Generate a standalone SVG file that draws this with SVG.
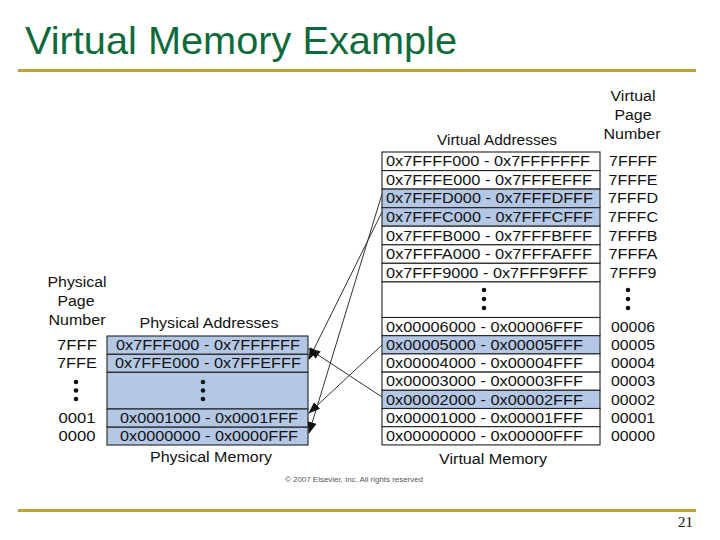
<svg xmlns="http://www.w3.org/2000/svg" width="720" height="540" viewBox="0 0 720 540">
<style>
.t{font-family:"Liberation Sans",Arial,sans-serif;font-size:14px;fill:#111}
.m{text-anchor:middle}
.row{fill:#fff;stroke:#222;stroke-width:1.1}
.hl{fill:#B4C8E6;stroke:#222;stroke-width:1.1}
.dot{fill:#111}
.conn{stroke:#333;stroke-width:1;fill:none;marker-end:url(#ah)}
</style>
<defs>
<marker id="ah" markerUnits="userSpaceOnUse" markerWidth="12" markerHeight="9" refX="11" refY="4.5" orient="auto">
<path d="M0,0 L12,4.5 L0,9 z" fill="#111"/>
</marker>
</defs>
<rect width="720" height="540" fill="#fff"/>
<g id="title">
<text x="25" y="54" font-family="'Liberation Sans',Arial,sans-serif" font-size="39" fill="#0E6A3A" textLength="432" lengthAdjust="spacingAndGlyphs">Virtual Memory Example</text>
<rect x="18" y="69" width="678" height="3" fill="#C6A033"/>
</g>
<g id="virtual-memory">
<text class="t m" x="497" y="145" textLength="120" lengthAdjust="spacingAndGlyphs">Virtual Addresses</text>
<text class="t m" x="633" y="101" textLength="45" lengthAdjust="spacingAndGlyphs">Virtual</text>
<text class="t m" x="633" y="120" textLength="37" lengthAdjust="spacingAndGlyphs">Page</text>
<text class="t m" x="632" y="139" textLength="57" lengthAdjust="spacingAndGlyphs">Number</text>
<g id="v-7FFFF"><rect class="row" x="382" y="152" width="218" height="18.6"/><text class="t" x="386" y="166.3" textLength="204" lengthAdjust="spacingAndGlyphs">0x7FFFF000 - 0x7FFFFFFF</text><text class="t m" x="633" y="166.3" textLength="48" lengthAdjust="spacingAndGlyphs">7FFFF</text></g>
<g id="v-7FFFE"><rect class="row" x="382" y="170.6" width="218" height="18.5"/><text class="t" x="386" y="184.9" textLength="206" lengthAdjust="spacingAndGlyphs">0x7FFFE000 - 0x7FFFEFFF</text><text class="t m" x="633" y="184.9" textLength="49" lengthAdjust="spacingAndGlyphs">7FFFE</text></g>
<g id="v-7FFFD"><rect class="hl" x="382" y="189.1" width="218" height="18.6"/><text class="t" x="386" y="203.4" textLength="207" lengthAdjust="spacingAndGlyphs">0x7FFFD000 - 0x7FFFDFFF</text><text class="t m" x="633" y="203.4" textLength="50" lengthAdjust="spacingAndGlyphs">7FFFD</text></g>
<g id="v-7FFFC"><rect class="hl" x="382" y="207.7" width="218" height="18.5"/><text class="t" x="386" y="222" textLength="207" lengthAdjust="spacingAndGlyphs">0x7FFFC000 - 0x7FFFCFFF</text><text class="t m" x="633" y="222" textLength="50" lengthAdjust="spacingAndGlyphs">7FFFC</text></g>
<g id="v-7FFFB"><rect class="row" x="382" y="226.2" width="218" height="18.6"/><text class="t" x="386" y="240.5" textLength="206" lengthAdjust="spacingAndGlyphs">0x7FFFB000 - 0x7FFFBFFF</text><text class="t m" x="633" y="240.5" textLength="49" lengthAdjust="spacingAndGlyphs">7FFFB</text></g>
<g id="v-7FFFA"><rect class="row" x="382" y="244.8" width="218" height="18.5"/><text class="t" x="386" y="259.1" textLength="206" lengthAdjust="spacingAndGlyphs">0x7FFFA000 - 0x7FFFAFFF</text><text class="t m" x="633" y="259.1" textLength="49" lengthAdjust="spacingAndGlyphs">7FFFA</text></g>
<g id="v-7FFF9"><rect class="row" x="382" y="263.3" width="218" height="18.6"/><text class="t" x="386" y="277.6" textLength="202" lengthAdjust="spacingAndGlyphs">0x7FFF9000 - 0x7FFF9FFF</text><text class="t m" x="633" y="277.6" textLength="47" lengthAdjust="spacingAndGlyphs">7FFF9</text></g>
<g id="v-gap"><rect class="row" x="382" y="281.9" width="218" height="35.6"/><circle class="dot" cx="484" cy="290" r="2.3"/><circle class="dot" cx="484" cy="299" r="2.3"/><circle class="dot" cx="484" cy="308" r="2.3"/><circle class="dot" cx="628" cy="290" r="2.3"/><circle class="dot" cx="628" cy="299" r="2.3"/><circle class="dot" cx="628" cy="308" r="2.3"/></g>
<g id="v-00006"><rect class="row" x="382" y="317.5" width="218" height="18.2"/><text class="t" x="386" y="331.8" textLength="197" lengthAdjust="spacingAndGlyphs">0x00006000 - 0x00006FFF</text><text class="t m" x="633" y="331.8" textLength="44" lengthAdjust="spacingAndGlyphs">00006</text></g>
<g id="v-00005"><rect class="hl" x="382" y="335.7" width="218" height="18.2"/><text class="t" x="386" y="350" textLength="197" lengthAdjust="spacingAndGlyphs">0x00005000 - 0x00005FFF</text><text class="t m" x="633" y="350" textLength="44" lengthAdjust="spacingAndGlyphs">00005</text></g>
<g id="v-00004"><rect class="row" x="382" y="353.9" width="218" height="18.2"/><text class="t" x="386" y="368.2" textLength="197" lengthAdjust="spacingAndGlyphs">0x00004000 - 0x00004FFF</text><text class="t m" x="633" y="368.2" textLength="44" lengthAdjust="spacingAndGlyphs">00004</text></g>
<g id="v-00003"><rect class="row" x="382" y="372.1" width="218" height="18.2"/><text class="t" x="386" y="386.4" textLength="197" lengthAdjust="spacingAndGlyphs">0x00003000 - 0x00003FFF</text><text class="t m" x="633" y="386.4" textLength="44" lengthAdjust="spacingAndGlyphs">00003</text></g>
<g id="v-00002"><rect class="hl" x="382" y="390.3" width="218" height="18.2"/><text class="t" x="386" y="404.6" textLength="197" lengthAdjust="spacingAndGlyphs">0x00002000 - 0x00002FFF</text><text class="t m" x="633" y="404.6" textLength="44" lengthAdjust="spacingAndGlyphs">00002</text></g>
<g id="v-00001"><rect class="row" x="382" y="408.5" width="218" height="18.2"/><text class="t" x="386" y="422.8" textLength="197" lengthAdjust="spacingAndGlyphs">0x00001000 - 0x00001FFF</text><text class="t m" x="633" y="422.8" textLength="44" lengthAdjust="spacingAndGlyphs">00001</text></g>
<g id="v-00000"><rect class="row" x="382" y="426.7" width="218" height="18.2"/><text class="t" x="386" y="441" textLength="197" lengthAdjust="spacingAndGlyphs">0x00000000 - 0x00000FFF</text><text class="t m" x="633" y="441" textLength="44" lengthAdjust="spacingAndGlyphs">00000</text></g>
<text class="t m" x="493" y="464" textLength="108" lengthAdjust="spacingAndGlyphs">Virtual Memory</text>
</g>
<g id="physical-memory">
<text class="t m" x="77" y="287" textLength="59" lengthAdjust="spacingAndGlyphs">Physical</text>
<text class="t m" x="76" y="306" textLength="37" lengthAdjust="spacingAndGlyphs">Page</text>
<text class="t m" x="77" y="325" textLength="57" lengthAdjust="spacingAndGlyphs">Number</text>
<text class="t m" x="209" y="328" textLength="139" lengthAdjust="spacingAndGlyphs">Physical Addresses</text>
<g id="p-7FFF"><rect class="hl" x="107" y="336" width="201" height="18.3"/><text class="t m" x="208" y="350.3" textLength="184" lengthAdjust="spacingAndGlyphs">0x7FFF000 - 0x7FFFFFF</text><text class="t m" x="77" y="350.3" textLength="40" lengthAdjust="spacingAndGlyphs">7FFF</text></g>
<g id="p-7FFE"><rect class="hl" x="107" y="354.3" width="201" height="18"/><text class="t m" x="208" y="368.3" textLength="186" lengthAdjust="spacingAndGlyphs">0x7FFE000 - 0x7FFEFFF</text><text class="t m" x="77" y="368.3" textLength="40" lengthAdjust="spacingAndGlyphs">7FFE</text></g>
<g id="p-gap"><rect class="hl" x="107" y="372.3" width="201" height="36.7"/><circle class="dot" cx="203" cy="382" r="2.3"/><circle class="dot" cx="203" cy="390.5" r="2.3"/><circle class="dot" cx="203" cy="399" r="2.3"/><circle class="dot" cx="76" cy="382" r="2.3"/><circle class="dot" cx="76" cy="390.5" r="2.3"/><circle class="dot" cx="76" cy="399" r="2.3"/></g>
<g id="p-0001"><rect class="hl" x="107" y="409" width="201" height="18.2"/><text class="t m" x="209" y="423.3" textLength="178" lengthAdjust="spacingAndGlyphs">0x0001000 - 0x0001FFF</text><text class="t m" x="77" y="423.3" textLength="37" lengthAdjust="spacingAndGlyphs">0001</text></g>
<g id="p-0000"><rect class="hl" x="107" y="427.2" width="201" height="17.8"/><text class="t m" x="209" y="441.3" textLength="178" lengthAdjust="spacingAndGlyphs">0x0000000 - 0x0000FFF</text><text class="t m" x="77" y="441.3" textLength="37" lengthAdjust="spacingAndGlyphs">0000</text></g>
<text class="t m" x="211" y="462" textLength="122" lengthAdjust="spacingAndGlyphs">Physical Memory</text>
</g>
<g id="connectors">
<line class="conn" x1="382" y1="194" x2="309" y2="433"/>
<line class="conn" x1="382" y1="212" x2="309" y2="359"/>
<line class="conn" x1="382" y1="345" x2="309" y2="413"/>
<line class="conn" x1="382" y1="397" x2="309" y2="349"/>
</g>
<g id="footer">
<text x="285" y="482" font-family="'Liberation Sans',Arial,sans-serif" font-size="7" fill="#555" textLength="138" lengthAdjust="spacingAndGlyphs">© 2007 Elsevier, Inc. All rights reserved</text>
<rect x="18" y="509" width="678" height="3" fill="#C6A033"/>
<text x="693" y="527" text-anchor="end" font-family="'Liberation Serif','Times New Roman',serif" font-size="15" fill="#111">21</text>
</g>
</svg>
